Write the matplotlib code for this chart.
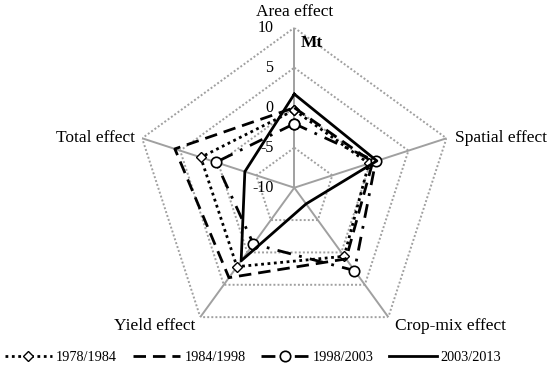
import numpy as np
import matplotlib
matplotlib.use("Agg")
import matplotlib.pyplot as plt

plt.rcParams['font.family'] = ['Liberation Serif', 'DejaVu Serif']

categories = ['Area effect', 'Spatial effect', 'Crop-mix effect', 'Yield effect', 'Total effect']
series_names = ['1978/1984', '1984/1998', '1998/2003', '2003/2013']
v_1978_1984 = [-0.3, -0.2, 0.6, 2.2, 2.3]
v_1984_1998 = [0.0, 0.3, 1.0, 3.9, 5.7]
v_1998_2003 = [-2.0, 0.7, 2.8, -1.3, 0.3]
v_2003_2013 = [1.7, 0.85, -7.5, 1.3, -3.5]
ring_values = [-5, 0, 5, 10]
tick_labels = ['10', '5', '0', '-5', '-10']
tick_values = [10, 5, 0, -5, -10]
r_min, r_max = -10, 10

fig = plt.figure(figsize=(5.5, 3.72), dpi=100)
ax = fig.add_axes([0.2442, 0.0653, 0.5818, 0.8602], projection='polar')
ax.set_theta_offset(np.pi / 2)
ax.set_theta_direction(-1)
ax.set_ylim(r_min, r_max)
ax.axis('off')

n = len(categories)
angles = np.arange(n) * 2 * np.pi / n
closed = np.append(angles, angles[0])
grey = '#a0a0a0'

for rv in ring_values:
    ax.plot(closed, [rv] * (n + 1), ls=(0, (1, 1.1)), color=grey, lw=1.4, zorder=1)
for a in angles:
    ax.plot([a, a], [r_min, r_max], color=grey, lw=1.4, zorder=1)

for v, t in zip(tick_values, tick_labels):
    ax.annotate(t, xy=(0, v), xytext=(-21, 0), textcoords='offset pixels',
                ha='right', va='center', fontsize=11.5, annotation_clip=False, zorder=2)
ax.annotate('Mt', xy=(0, 8.1), xytext=(6, 0), textcoords='offset pixels',
            ha='left', va='center', fontsize=12.5, fontweight='bold', annotation_clip=False)

label_offsets = [(0, 16, 'center'), (9, 0, 'left'), (7, -9, 'left'), (-5, -9, 'right'), (-7, 0, 'right')]
for a, lab, (dx, dy, ha) in zip(angles, categories, label_offsets):
    ax.annotate(lab, xy=(a, r_max), xytext=(dx, dy), textcoords='offset pixels',
                ha=ha, va='center', fontsize=12.5, annotation_clip=False)

def close(v):
    return list(v) + [v[0]]

styles = [
    dict(ls=(0, (1, 1.3)), lw=2.0, marker='D', ms=5, mfc='white', mec='black', mew=1.0),
    dict(ls=(0, (4.5, 2.5)), lw=2.0, marker=None),
    dict(ls=(0, (5, 3, 1, 3)), lw=2.0, marker='o', ms=7.5, mfc='white', mec='black', mew=1.2),
    dict(ls='-', lw=2.0, marker=None),
]
data = [v_1978_1984, v_1984_1998, v_1998_2003, v_2003_2013]
for name, vals, st in zip(series_names, data, styles):
    ax.plot(closed, close(vals), color='black', label=name, zorder=3, **st)

fig.legend(loc='center', bbox_to_anchor=(0.46, 0.038), ncol=4, frameon=False,
           fontsize=10.3, handlelength=3.3, handletextpad=0.3, columnspacing=1.1)

fig.savefig('out.png', dpi=100)
